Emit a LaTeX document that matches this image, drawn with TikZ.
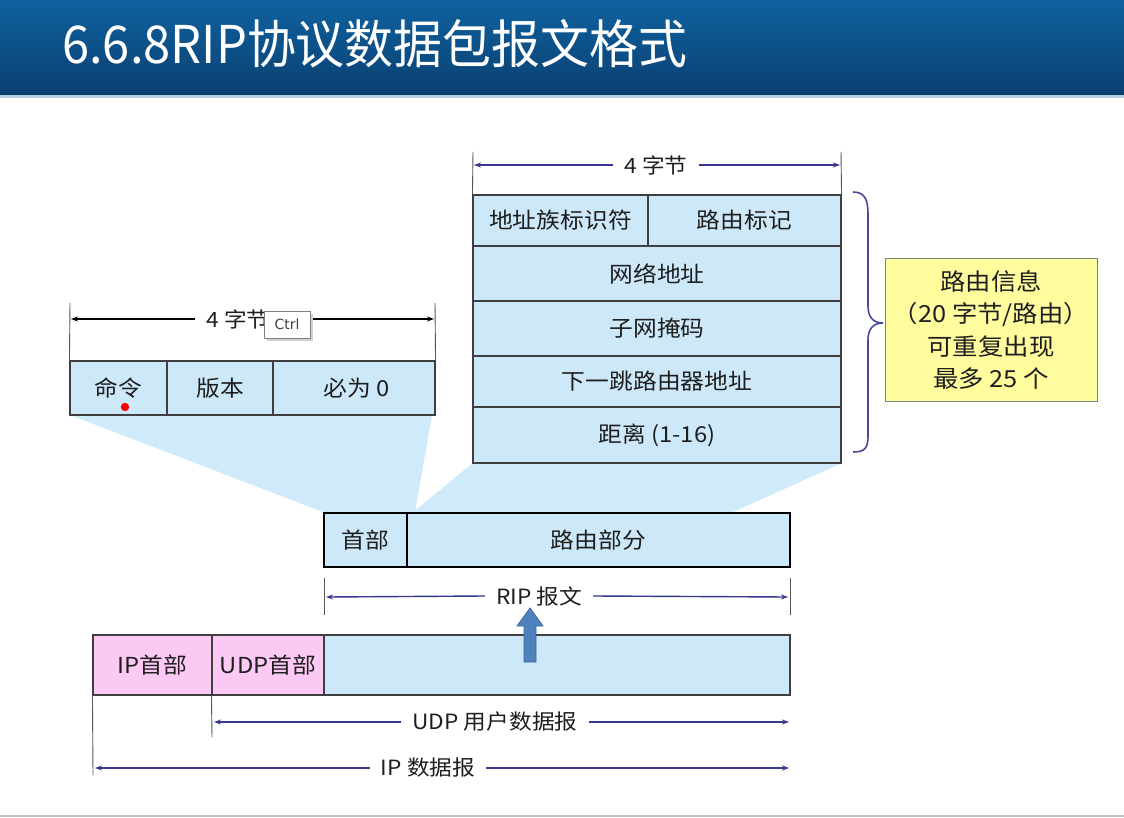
\documentclass[tikz,border=0pt]{standalone}
\usepackage{fontspec}
\setmainfont{Noto Sans CJK SC}
\newfontfamily\bodyfont[FakeStretch=1.08]{Noto Sans CJK SC}
\newfontfamily\titlefont[FakeStretch=0.94]{Noto Sans CJK SC}
\newfontfamily\tipfont{DejaVu Sans}
\usetikzlibrary{arrows.meta}
\definecolor{barTop}{HTML}{0F62A0}
\definecolor{barBot}{HTML}{0A3F70}
\definecolor{barLine}{HTML}{B8CFE0}
\definecolor{cellblue}{HTML}{CCE8F9}
\definecolor{funnelblue}{HTML}{CFEAFA}
\definecolor{cellline}{HTML}{3F3F3F}
\definecolor{pinkc}{HTML}{FBC9F4}
\definecolor{yellowc}{HTML}{FFFC9E}
\definecolor{yellowline}{HTML}{808080}
\definecolor{dimblue}{HTML}{38388F}
\definecolor{bracecol}{HTML}{4B4A9A}
\definecolor{tickgray}{HTML}{555555}
\definecolor{txt}{HTML}{1E1E1E}
\definecolor{arrowblue}{HTML}{4F81BD}
\definecolor{arrowedge}{HTML}{3B6AA0}
\begin{document}
\begin{tikzpicture}[x=1pt,y=-1pt,
  cell/.style={draw=cellline, fill=cellblue, line width=1.1pt, inner sep=0pt,
    font=\bodyfont\fontsize{22}{26}\selectfont, text=txt},
  midcell/.style={draw=black, line width=2pt},
  dimlbl/.style={font=\bodyfont\fontsize{21}{24}\selectfont, text=txt, inner xsep=11pt, inner ysep=0pt},
  dimarrow/.style={draw=dimblue, line width=1.4pt, -{Stealth[length=7pt,width=5pt]}},
  blackarrow/.style={draw=black, line width=1.4pt, -{Stealth[length=7pt,width=5pt]}},
  tickline/.style={draw=tickgray, line width=0.9pt}]
\useasboundingbox (0,0) rectangle (1124,818);
\fill[white] (0,0) rectangle (1124,818);

% title bar
\shade[top color=barTop, bottom color=barBot] (0,0) rectangle (1124,95);
\fill[barLine] (0,95) rectangle (1124,98);
\node[anchor=west, text=white, font=\titlefont\fontsize{52}{58}\selectfont, inner sep=0pt] (title) at (62,44) {6.6.8RIP协议数据包报文格式};
\draw[gray!45, line width=1.5pt] (0,816) -- (1124,816);

% funnels
\fill[funnelblue] (70,415) -- (432,415) -- (415,512) -- (323,512) -- cycle;
\fill[funnelblue] (473,463) -- (842,463) -- (733,512) -- (413,512) -- cycle;

% top-right route entry
\node[cell, minimum width=175, minimum height=51] (faddr) at (560.5,220.5) {地址族标识符};
\node[cell, minimum width=193, minimum height=51] (tag) at (744.5,220.5) {路由标记\hspace{15pt}};
\node[cell, minimum width=368, minimum height=55] (net) at (657,273.5) {网络地址};
\node[cell, minimum width=368, minimum height=55] (mask) at (657,328.5) {子网掩码};
\node[cell, minimum width=368, minimum height=51] (nexthop) at (657,381.5) {下一跳路由器地址};
\node[cell, minimum width=368, minimum height=56] (metric) at (657,435) {距离 (1-16)};

% top dimension
\coordinate (tlt) at (473,152);
\coordinate (trt) at (841,152);
\draw[tickline] (tlt) -- (faddr.north west);
\draw[tickline] (trt) -- (tag.north east);
\node[dimlbl] (toplbl) at (656,165) {4 字节};
\coordinate (tla) at (474,165);
\coordinate (tra) at (840,165);
\draw[dimarrow] (toplbl.west) -- (tla);
\draw[dimarrow] (toplbl.east) -- (tra);

% brace and yellow note
\draw[bracecol, line width=1.6pt] (853,192) .. controls (865,192) and (868,200) .. (868,214) -- (868,306)
  .. controls (868,318) and (874,323) .. (883,323) .. controls (874,323) and (868,328) .. (868,340)
  -- (868,436) .. controls (868,448) and (865,452) .. (853,452);
\node[draw=yellowline, fill=yellowc, line width=1pt, minimum width=212, minimum height=142, inner sep=0pt,
  align=center, text=txt, font=\bodyfont\fontsize{23.5}{32.3}\selectfont] (note) at (991,330)
  {路由信息\\（20 字节/路由）\\可重复出现\\最多 25 个};

% left header
\node[cell, minimum width=97, minimum height=54] (cmd) at (118.5,388) {命令\hspace{23pt}};
\node[cell, minimum width=106, minimum height=54] (ver) at (220,388) {版本\hspace{6pt}};
\node[cell, minimum width=162, minimum height=54] (zero) at (354,388) {\hspace{6pt}必为 0};
\coordinate (llt) at (70,303);
\coordinate (lrt) at (435,303);
\draw[tickline] (llt) -- (cmd.north west);
\draw[tickline] (lrt) -- (zero.north east);
\node[dimlbl] (leftlbl) at (238,319) {4 字节};
\coordinate (lla) at (71,319);
\coordinate (lra) at (434,319);
\draw[blackarrow] (leftlbl.west) -- (lla);
\draw[blackarrow] (leftlbl.east) -- (lra);
% tooltip
\fill[black!18] (267,314) rectangle (313,341);
\node[draw=gray, fill=white, line width=0.8pt, minimum width=46, minimum height=27, inner sep=0pt,
  font=\tipfont\fontsize{14}{16}\selectfont, text=black!75] (tooltip) at (287,324.5) {Ctrl};
% red pointer dot
\fill[red] (125,407) circle (4.2);

% RIP message
\node[cell, midcell, minimum width=83, minimum height=54] (rhdr) at (365.5,540) {首部\hspace{17pt}};
\node[cell, midcell, minimum width=383, minimum height=54] (rroute) at (598.5,540) {路由部分\hspace{117pt}};
\coordinate (rlt1) at (324,578);
\coordinate (rlt2) at (324,615);
\coordinate (rrt1) at (790,578);
\coordinate (rrt2) at (790,615);
\draw[tickline] (rlt1) -- (rlt2);
\draw[tickline] (rrt1) -- (rrt2);
\node[dimlbl] (riplbl) at (539,596) {RIP 报文};
\coordinate (rla) at (326,597);
\coordinate (rra) at (788,597);
\draw[dimarrow] (riplbl.west) -- (rla);
\draw[dimarrow] (riplbl.east) -- (rra);

% IP datagram
\node[cell, fill=pinkc, minimum width=119, minimum height=60] (iph) at (152.5,665) {IP首部};
\node[cell, fill=pinkc, minimum width=112, minimum height=60] (udph) at (268,665) {UDP首部};
\node[cell, minimum width=466, minimum height=60] (udpdata) at (557,665) {};

% blue up arrow
\filldraw[fill=arrowblue, draw=arrowedge, line width=0.8pt] (524,662) -- (524,626) -- (517,626) -- (530,608)
  -- (543,626) -- (536,626) -- (536,662) -- cycle;

% UDP dimension
\coordinate (ut) at (212,737);
\draw[tickline] (udph.south west) -- (ut);
\node[dimlbl] (udplbl) at (495,722) {UDP 用户数据报};
\coordinate (ula) at (214,722);
\coordinate (ura) at (789,722);
\draw[dimarrow] (udplbl.west) -- (ula);
\draw[dimarrow] (udplbl.east) -- (ura);

% IP dimension
\coordinate (it) at (93,775);
\draw[tickline] (iph.south west) -- (it);
\node[dimlbl] (iplbl) at (428,768) {IP 数据报};
\coordinate (ila) at (95,768);
\coordinate (ira) at (789,768);
\draw[dimarrow] (iplbl.west) -- (ila);
\draw[dimarrow] (iplbl.east) -- (ira);
\end{tikzpicture}
\end{document}
